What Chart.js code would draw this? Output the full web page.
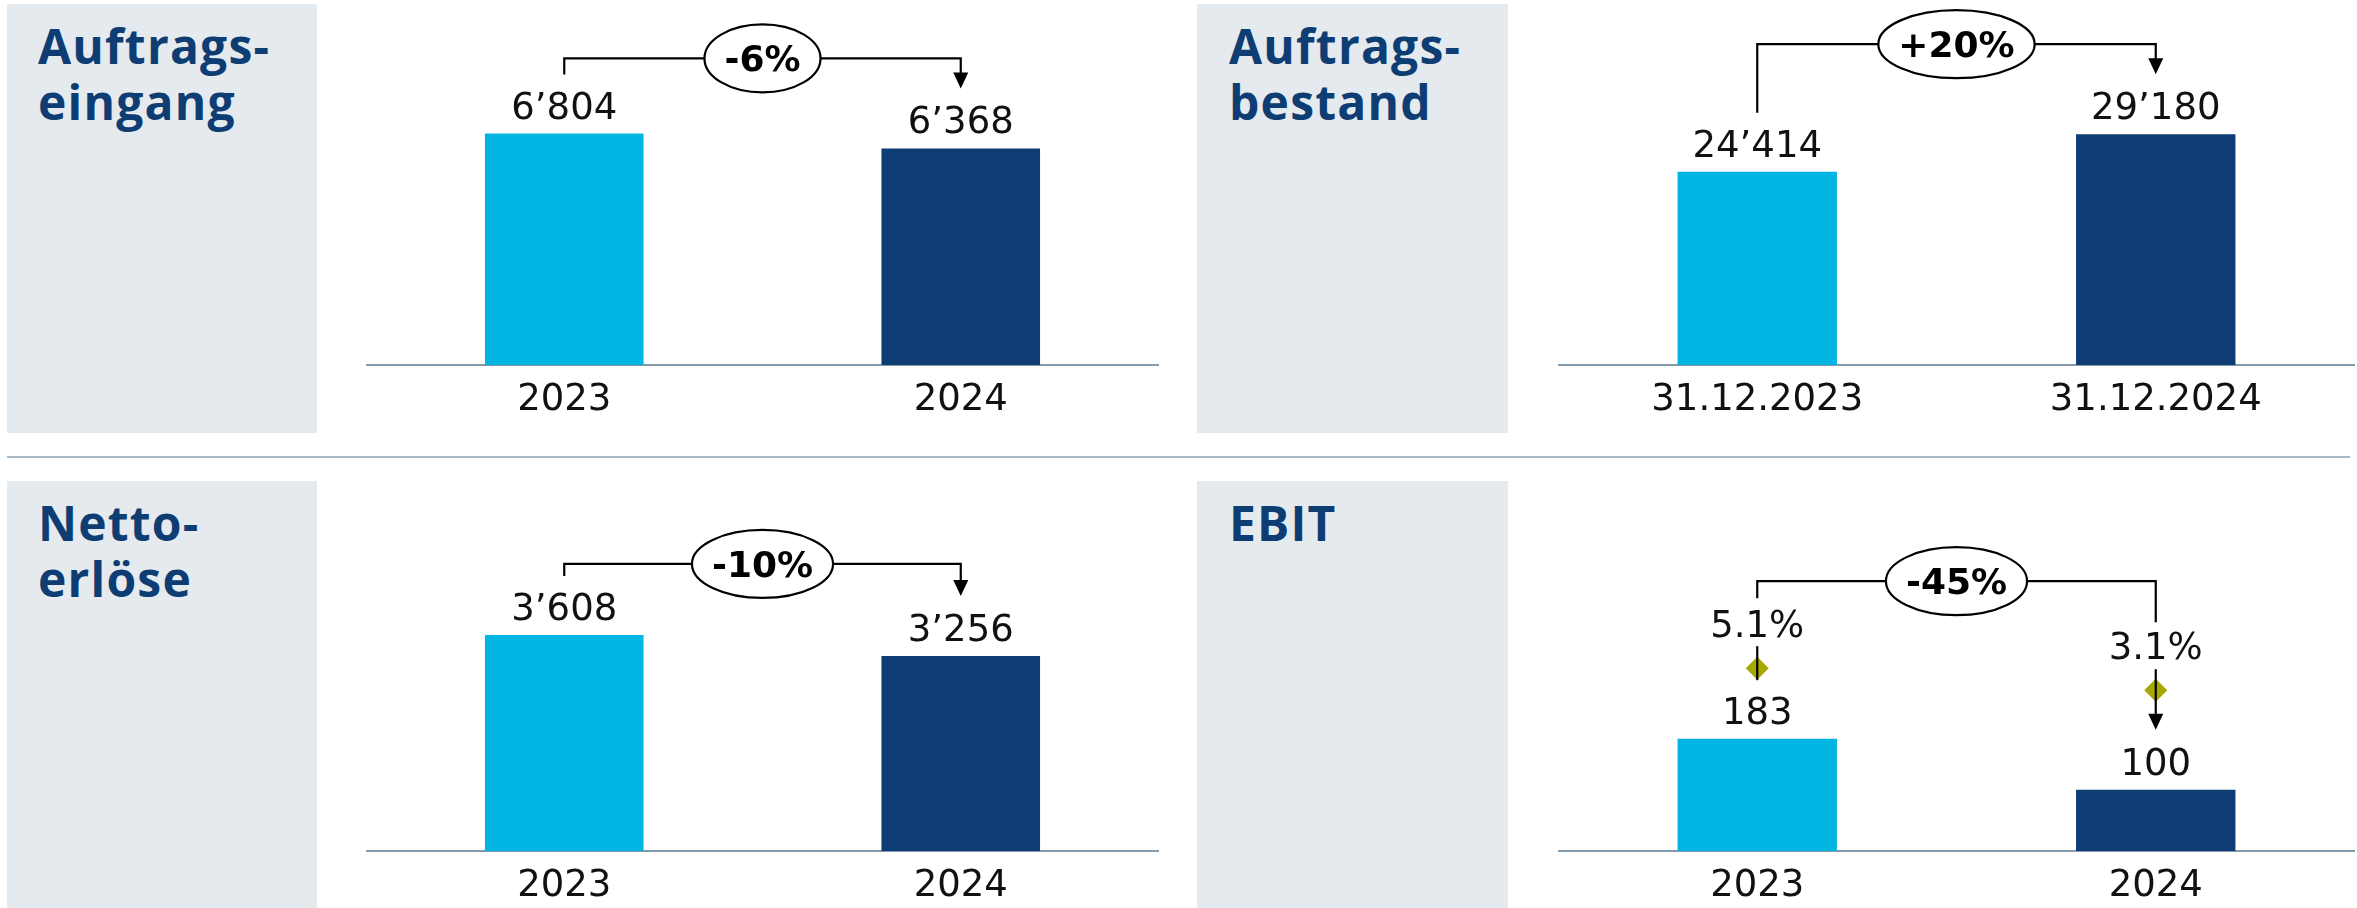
<!DOCTYPE html>
<html><head><meta charset="utf-8">
<script src="https://cdn.jsdelivr.net/npm/chart.js@4.4.1/dist/chart.umd.min.js"></script>
<style>
html,body{margin:0;padding:0;background:#fff;width:2357px;height:908px;overflow:hidden;position:relative;}
.box{position:absolute;background:#e5eaef;}
.title{position:absolute;font-family:'Open Sans',sans-serif;font-weight:700;font-size:48px;line-height:56px;color:#0e3d73;letter-spacing:1.2px;white-space:nowrap;}
.divider{position:absolute;left:7px;top:456px;width:2343px;height:2px;background:#a9bac6;}
canvas{position:absolute;}
</style></head><body>
<div class="divider"></div>
<script>
// ---- data ----
const yearLabels = ['2023', '2024'];
const dateLabels = ['31.12.2023', '31.12.2024'];
const auftragseingang = [6804, 6368];
const auftragsbestand = [24414, 29180];
const nettoerloese = [3608, 3256];
const ebit = [183, 100];
const ebitMarge = [5.1, 3.1];
const veraenderung = ['-6%', '+20%', '-10%', '-45%'];
const titel = [['Auftrags-', 'eingang'], ['Auftrags-', 'bestand'], ['Netto-', 'erlöse'], ['EBIT']];

// ---- styles / layout ----
const barColors = ['#00b5e2', '#0e3d73'];
const layout = [
  {box:[7,4,310,429],    title:[38,18],    canvas:[366,0,793,440],   axisH:75, yMax:10730},
  {box:[1197,4,311,429], title:[1229,18],  canvas:[1558,0,797,440],  axisH:75, yMax:46140},
  {box:[7,481,310,427],  title:[38,495],   canvas:[366,460,793,448], axisH:57, yMax:6530},
  {box:[1197,481,311,427], title:[1229,495], canvas:[1558,460,797,448], axisH:57, yMax:638, y1:[-11.5,24]}
];

function fmt(v){ return String(v).replace(/\B(?=(\d{3})+(?!\d))/g, '\u2019'); }

function seg(ctx,x1,y1,x2,y2){ ctx.beginPath(); ctx.moveTo(x1,y1); ctx.lineTo(x2,y2); ctx.stroke(); }
function arrowhead(ctx,x,tip){ ctx.beginPath(); ctx.moveTo(x,tip); ctx.lineTo(x-7.5,tip-16); ctx.lineTo(x+7.5,tip-16); ctx.closePath(); ctx.fill(); }

const annotPlugin = {
  id: 'annot',
  afterDatasetsDraw(chart, args, o) {
    const ctx = chart.ctx;
    const bars = chart.getDatasetMeta(0).data;
    const vals = chart.data.datasets[0].data;
    const CAP = 27;
    ctx.save();
    ctx.fillStyle = '#111'; ctx.strokeStyle = '#000';
    ctx.textAlign = 'center'; ctx.textBaseline = 'alphabetic';
    ctx.font = '37px "DejaVu Sans"';
    const tops = [];
    bars.forEach((b,i) => { const base = b.y - 15; ctx.fillText(fmt(vals[i]), b.x, base); tops.push(base - CAP); });
    const xL = bars[0].x, xR = bars[1].x;
    ctx.lineWidth = 2.2;
    ctx.fillStyle = '#000';
    let lRef = tops[0], rRef = tops[1];
    let lEnd = tops[0] - 17;
    let rEnd, hasArrowTop = true;
    const rTip = tops[1] - 18;
    if (chart.data.datasets.length > 1) {
      const pts = chart.getDatasetMeta(1).data;
      const mv = chart.data.datasets[1].data;
      const mTops = [];
      ctx.fillStyle = '#111';
      pts.forEach((p,i) => { const base = p.y - 31; ctx.fillText(mv[i].toFixed(1) + '%', p.x, base); mTops.push(base - CAP); });
      ctx.fillStyle = '#000';
      seg(ctx, xL, pts[0].y - 22, xL, pts[0].y + 12);
      seg(ctx, xR, pts[1].y - 21, xR, rTip - 14);
      arrowhead(ctx, xR, rTip);
      lRef = mTops[0]; rRef = mTops[1];
      lEnd = mTops[0] - 12;
      rEnd = mTops[1] - 10;
      hasArrowTop = false;
    }
    const by = Math.min(rRef - 48, lRef - 29);
    ctx.beginPath();
    ctx.moveTo(xL, lEnd); ctx.lineTo(xL, by); ctx.lineTo(xR, by);
    ctx.lineTo(xR, hasArrowTop ? rTip - 14 : rEnd);
    ctx.stroke();
    if (hasArrowTop) arrowhead(ctx, xR, rTip);
    // change bubble
    const txt = o.change;
    ctx.font = 'bold 36px "DejaVu Sans"';
    const tw = ctx.measureText(txt).width;
    const cx = (xL + xR) / 2;
    ctx.beginPath();
    ctx.ellipse(cx, by, tw/2 + 20, 34, 0, 0, Math.PI*2);
    ctx.fillStyle = '#fff'; ctx.fill();
    ctx.lineWidth = 2.2; ctx.stroke();
    ctx.fillStyle = '#000';
    ctx.fillText(txt, cx, by + 13);
    ctx.restore();
  }
};

function makePanel(i, labels, values, margins) {
  const L = layout[i];
  const box = document.createElement('div');
  box.className = 'box';
  Object.assign(box.style, {left:L.box[0]+'px', top:L.box[1]+'px', width:L.box[2]+'px', height:L.box[3]+'px'});
  document.body.appendChild(box);
  const t = document.createElement('div');
  t.className = 'title';
  t.style.left = L.title[0]+'px'; t.style.top = L.title[1]+'px';
  t.innerHTML = titel[i].join('<br>');
  document.body.appendChild(t);

  const cv = document.createElement('canvas');
  cv.width = L.canvas[2]; cv.height = L.canvas[3];
  Object.assign(cv.style, {left:L.canvas[0]+'px', top:L.canvas[1]+'px', width:L.canvas[2]+'px', height:L.canvas[3]+'px'});
  document.body.appendChild(cv);

  const datasets = [{type:'bar', data: values, backgroundColor: barColors, barPercentage: 0.4, categoryPercentage: 1, yAxisID: 'y'}];
  if (margins) datasets.push({type:'line', data: margins, yAxisID:'y1', showLine:false, clip:false, pointStyle:'rectRot', pointRadius:11.5, pointBackgroundColor:'#a7a800', pointBorderWidth:0, pointBorderColor:'#a7a800'});
  const scales = {
    x: {display:true, grid:{display:false, drawTicks:false, tickLength:0},
        border:{display:true, color:'#8499a9', width:2},
        ticks:{color:'#111', font:{family:'DejaVu Sans', size:37}, padding:13, maxRotation:0, autoSkip:false},
        afterFit: s => { s.height = L.axisH; }},
    y: {display:false, min:0, max:L.yMax}
  };
  if (margins) scales.y1 = {display:false, min:L.y1[0], max:L.y1[1]};
  new Chart(cv, {
    type:'bar',
    data:{labels, datasets},
    options:{responsive:false, animation:false, events:[], devicePixelRatio:1,
      layout:{padding:0, autoPadding:false},
      plugins:{legend:{display:false}, tooltip:{enabled:false}, annot:{change: veraenderung[i]}},
      scales},
    plugins:[annotPlugin]
  });
}

makePanel(0, yearLabels, auftragseingang);
makePanel(1, dateLabels, auftragsbestand);
makePanel(2, yearLabels, nettoerloese);
makePanel(3, yearLabels, ebit, ebitMarge);
</script>
</body></html>
